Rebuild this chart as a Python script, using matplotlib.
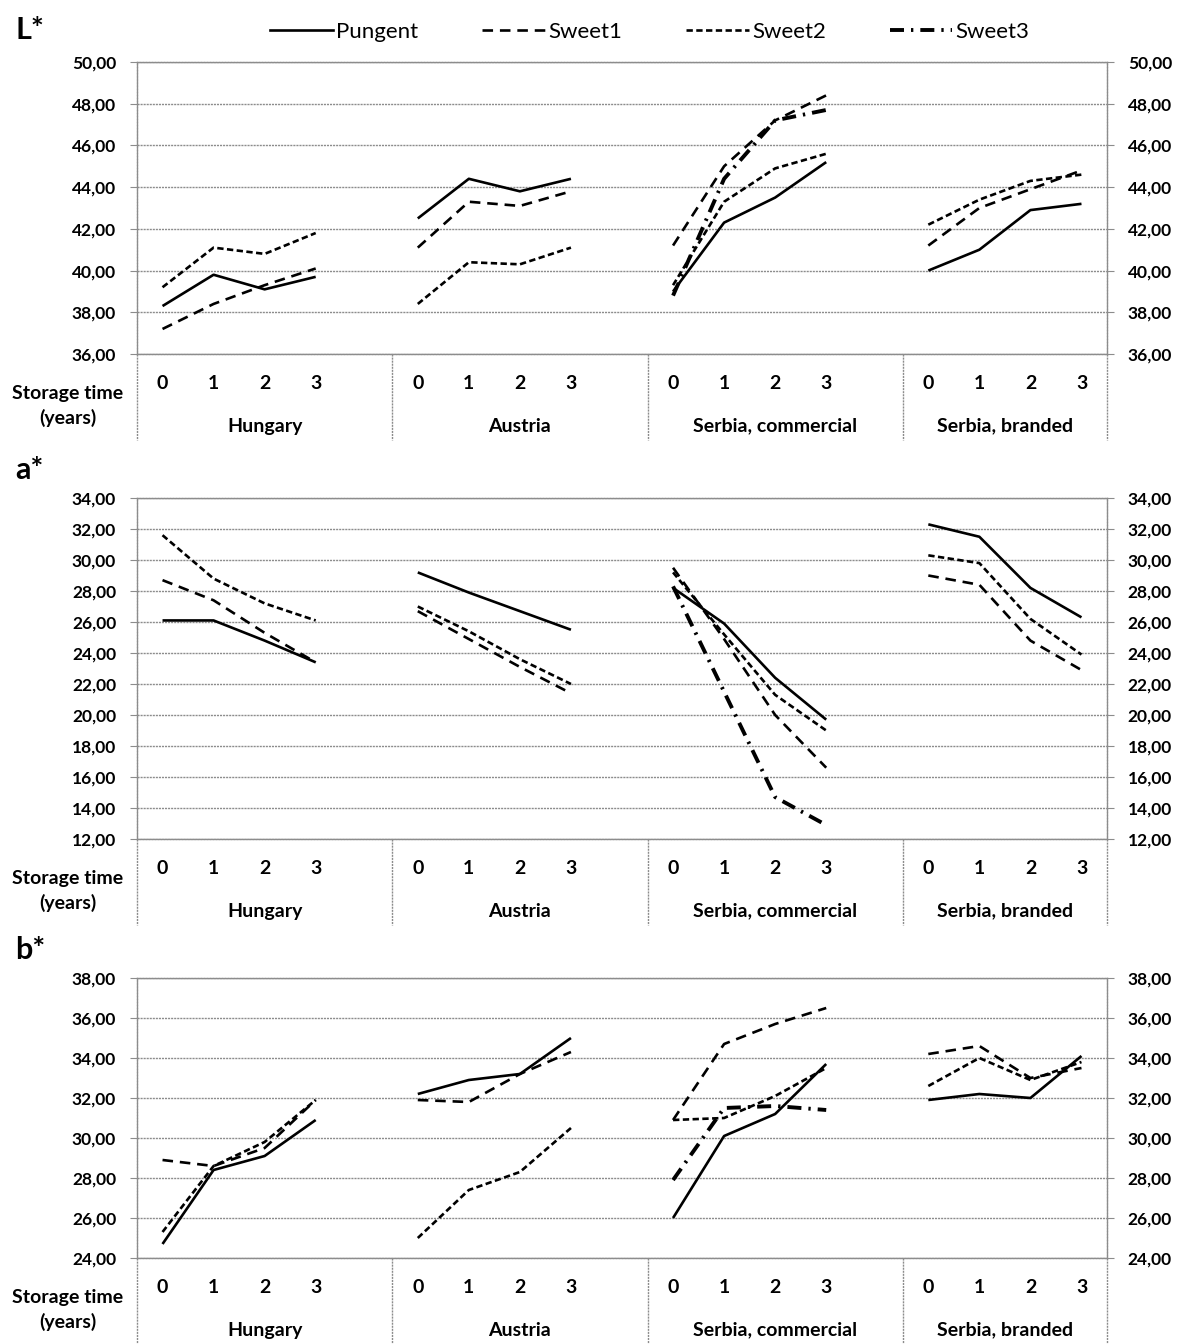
import numpy as np
import matplotlib.pyplot as plt
from matplotlib.ticker import FuncFormatter, MultipleLocator
from matplotlib.lines import Line2D

plt.rcParams['font.family'] = ['Lato', 'DejaVu Sans']

# data: one list of 4 storage-time values per region
regions = ['Hungary', 'Austria', 'Serbia, commercial', 'Serbia, branded']
years = ['0', '1', '2', '3']
series = ['Pungent', 'Sweet1', 'Sweet2', 'Sweet3']

L_pungent = [[38.3, 39.8, 39.1, 39.7], [42.5, 44.4, 43.8, 44.4], [39.0, 42.3, 43.5, 45.2], [40.0, 41.0, 42.9, 43.2]]
L_sweet1 = [[37.2, 38.4, 39.3, 40.1], [41.1, 43.3, 43.1, 43.8], [41.2, 45.0, 47.2, 48.4], [41.2, 43.0, 43.9, 44.8]]
L_sweet2 = [[39.2, 41.1, 40.8, 41.8], [38.4, 40.4, 40.3, 41.1], [39.3, 43.3, 44.9, 45.6], [42.2, 43.4, 44.3, 44.6]]
L_sweet3 = [None, None, [38.8, 44.4, 47.2, 47.7], None]

a_pungent = [[26.1, 26.1, 24.8, 23.4], [29.2, 27.9, 26.7, 25.5], [28.2, 25.9, 22.4, 19.7], [32.3, 31.5, 28.2, 26.3]]
a_sweet1 = [[28.7, 27.4, 25.3, 23.4], [26.7, 24.9, 23.1, 21.4], [29.5, 24.9, 20.0, 16.6], [29.0, 28.4, 24.8, 22.9]]
a_sweet2 = [[31.6, 28.8, 27.2, 26.1], [27.0, 25.4, 23.6, 22.0], [29.2, 25.2, 21.3, 19.0], [30.3, 29.8, 26.2, 23.9]]
a_sweet3 = [None, None, [28.3, 21.5, 14.7, 12.9], None]

b_pungent = [[24.7, 28.4, 29.1, 30.9], [32.2, 32.9, 33.2, 35.0], [26.0, 30.1, 31.2, 33.7], [31.9, 32.2, 32.0, 34.1]]
b_sweet1 = [[28.9, 28.6, 29.5, 31.9], [31.9, 31.8, 33.2, 34.3], [30.9, 34.7, 35.7, 36.5], [34.2, 34.6, 33.0, 33.5]]
b_sweet2 = [[25.3, 28.6, 29.8, 31.9], [25.0, 27.4, 28.3, 30.5], [30.9, 31.0, 32.1, 33.5], [32.6, 34.0, 32.9, 33.8]]
b_sweet3 = [None, None, [27.9, 31.5, 31.6, 31.4], None]

panels = [
    ('L*', [L_pungent, L_sweet1, L_sweet2, L_sweet3], (36, 50)),
    ('a*', [a_pungent, a_sweet1, a_sweet2, a_sweet3], (12, 34)),
    ('b*', [b_pungent, b_sweet1, b_sweet2, b_sweet3], (24, 38)),
]

styles = {
    'Pungent': dict(lw=1.9, ls='-'),
    'Sweet1': dict(lw=1.9, ls=(0, (4.0, 2.6))),
    'Sweet2': dict(lw=1.9, ls=(0, (2.4, 1.3))),
    'Sweet3': dict(lw=2.8, ls=(0, (3.6, 1.8, 0.6, 1.8))),
}

W, H = 1184, 1344
fig = plt.figure(figsize=(W / 100, H / 100), dpi=100)

# axes boxes in pixels: top, bottom of plot area
boxes = [(62, 354), (498, 839), (978, 1258)]
title_y = [30, 470, 950]
left_px, right_px = 137, 1107
grid_col = '#8c8c8c'
lab_size = 14


def build(groups):
    # 5 category slots per region (4 years + a blank), last region has no blank
    out = []
    for i, g in enumerate(groups):
        vals = g if g is not None else [np.nan] * 4
        out.extend(vals)
        if i < len(groups) - 1:
            out.append(np.nan)
    return np.array(out, dtype=float)


xcat = np.arange(19)
fmt = FuncFormatter(lambda v, p: f'{v:.2f}'.replace('.', ','))

for (title, data, ylim), (top, bot), ty in zip(panels, boxes, title_y):
    hpx = bot - top
    ax = fig.add_axes([left_px / W, 1 - bot / H, (right_px - left_px) / W, hpx / H])
    for name, groups in zip(series, data):
        ax.plot(xcat, build(groups), color='black', solid_capstyle='butt', **styles[name])
    ax.set_xlim(-0.5, 18.5)
    ax.set_ylim(*ylim)
    ax.yaxis.set_major_locator(MultipleLocator(2))
    ax.yaxis.set_major_formatter(fmt)
    ax.grid(axis='y', color=grid_col, lw=1.0, ls=(0, (1.5, 0.7)))
    ax.set_axisbelow(True)
    for sp in ax.spines.values():
        sp.set_color(grid_col)
        sp.set_linewidth(1.0)
        sp.set_linestyle((0, (1.5, 0.7)))
    ax.tick_params(axis='y', which='both', left=True, right=True, labelleft=True, labelright=True,
                   direction='out', length=5, color=grid_col, labelsize=12.5, pad=10)
    for lab in ax.get_yticklabels():
        lab.set_fontweight('bold')
    ax.set_xticks([])

    # multi-level category axis
    for i, reg in enumerate(regions):
        start = i * 5
        for j, yr in enumerate(years):
            ax.annotate(yr, xy=(start + j, 0), xycoords=('data', 'axes fraction'),
                        xytext=(0, -21), textcoords='offset points', ha='center', va='center',
                        fontsize=lab_size, fontweight='bold')
        center = start + 1.5 + (0.5 if i < 3 else 0)
        ax.annotate(reg, xy=(center, 0), xycoords=('data', 'axes fraction'),
                    xytext=(0, -52), textcoords='offset points', ha='center', va='center',
                    fontsize=lab_size, fontweight='bold')
    ybot = -86 / hpx
    for xs in [-0.5, 4.5, 9.5, 14.5, 18.5]:
        ax.plot([xs, xs], [0, ybot], transform=ax.get_xaxis_transform(), color=grid_col,
                lw=1.0, ls=(0, (1.5, 0.7)), clip_on=False)
    fig.text(68 / W, 1 - (bot + 52) / H, 'Storage time\n(years)', ha='center', va='center',
             fontsize=lab_size, fontweight='bold', linespacing=1.5)
    fig.text(15 / W, 1 - ty / H, title, ha='left', va='center', fontsize=22, fontweight='bold')

handles = [Line2D([], [], color='black', **styles[n]) for n in series]
fig.legend(handles, series, loc='center', bbox_to_anchor=(650 / W, 1 - 32 / H), ncol=4,
           frameon=False, fontsize=16, handlelength=2.8, handletextpad=0.15, columnspacing=2.9)

fig.savefig('out.png', dpi=100, facecolor='white')
